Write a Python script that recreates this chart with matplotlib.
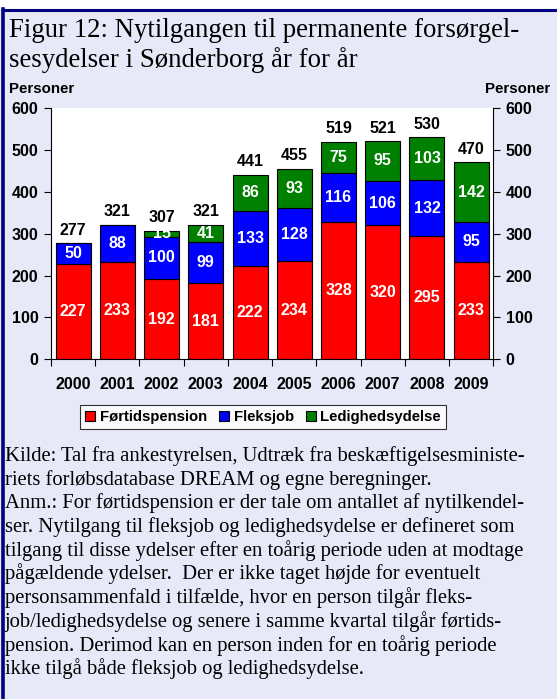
import matplotlib
matplotlib.use("Agg")
import matplotlib.pyplot as plt
from matplotlib.patches import Patch
from matplotlib.lines import Line2D
import numpy as np

years = ["2000", "2001", "2002", "2003", "2004", "2005", "2006", "2007", "2008", "2009"]
fortid = [227, 233, 192, 181, 222, 234, 328, 320, 295, 233]
fleks = [50, 88, 100, 99, 133, 128, 116, 106, 132, 95]
ledig = [0, 0, 15, 41, 86, 93, 75, 95, 103, 142]
series_names = ["Førtidspension", "Fleksjob", "Ledighedsydelse"]
colors = ["#FF0000", "#0000FF", "#008000"]

title_lines = ["Figur 12: Nytilgangen til permanente forsørgel-",
               "sesydelser i Sønderborg år for år"]
note_lines = [
    "Kilde: Tal fra ankestyrelsen, Udtræk fra beskæftigelsesministe-",
    "riets forløbsdatabase DREAM og egne beregninger.",
    "Anm.: For førtidspension er der tale om antallet af nytilkendel-",
    "ser. Nytilgang til fleksjob og ledighedsydelse er defineret som",
    "tilgang til disse ydelser efter en toårig periode uden at modtage",
    "pågældende ydelser.  Der er ikke taget højde for eventuelt",
    "personsammenfald i tilfælde, hvor en person tilgår fleks-",
    "job/ledighedsydelse og senere i samme kvartal tilgår førtids-",
    "pension. Derimod kan en person inden for en toårig periode",
    "ikke tilgå både fleksjob og ledighedsydelse.",
]

W, H = 557, 699
bg = "#E7E9F8"
fig = plt.figure(figsize=(W / 100, H / 100), dpi=100)
fig.patch.set_facecolor(bg)

# white strip above top border, and navy borders
fig.add_artist(plt.Rectangle((0, 1 - 9 / H), 1, 9 / H, transform=fig.transFigure,
                             facecolor="white", edgecolor="none", zorder=0))
fig.add_artist(Line2D([3 / W, 1], [1 - 10 / H, 1 - 10 / H], transform=fig.transFigure,
                      color="#000080", lw=2.2))
fig.add_artist(Line2D([2.5 / W, 2.5 / W], [0, 1 - 9 / H], transform=fig.transFigure,
                      color="#000080", lw=2.6))

ax = fig.add_axes([51 / W, 1 - 359.3 / H, (493.3 - 51) / W, (359.3 - 108) / H])
ax.set_facecolor("white")

FS = 11.5
x = np.arange(len(years))
bw = 0.79
data = [fortid, fleks, ledig]
bottom = np.zeros(len(years))
for vals, col in zip(data, colors):
    vals = np.array(vals, dtype=float)
    ax.bar(x, vals, bw, bottom=bottom, color=col, edgecolor="black", linewidth=0.8, zorder=2)
    for xi, b, v in zip(x, bottom, vals):
        if v > 0:
            ax.text(xi, b + v / 2, f"{int(v)}", ha="center", va="center", color="white",
                    fontsize=FS, fontweight="bold", family="Liberation Sans", zorder=3)
    bottom = bottom + vals

for xi, t in zip(x, bottom):
    ax.annotate(f"{int(t)}", (xi, t), xytext=(0, 4), textcoords="offset points",
                ha="center", va="bottom", fontsize=FS, fontweight="bold",
                family="Liberation Sans", color="black")

ax.set_xlim(-0.5, len(years) - 0.5)
ax.set_ylim(0, 600)
ax.set_yticks(range(0, 601, 100))
ax.set_xticks(x)
ax.set_xticklabels(years)
ax.set_xticks(np.arange(-0.5, len(years)), minor=True)
ax.tick_params(axis="x", which="major", length=0, pad=13)
ax.tick_params(axis="x", which="minor", length=5, width=0.8, direction="out")
ax.tick_params(axis="y", which="major", length=5, width=0.8, direction="out", pad=4,
               left=True, right=True, labelleft=True, labelright=True)
for lab in ax.get_xticklabels() + ax.get_yticklabels():
    lab.set_fontweight("bold")
    lab.set_fontsize(FS)
    lab.set_family("Liberation Sans")
ax.spines["top"].set_visible(False)
for s in ["left", "right", "bottom"]:
    ax.spines[s].set_linewidth(0.8)

# y-axis titles
fig.text(9 / W, 1 - 93 / H, "Personer", ha="left", va="baseline", fontsize=10.8,
         fontweight="bold", family="Liberation Sans")
fig.text(550 / W, 1 - 93 / H, "Personer", ha="right", va="baseline", fontsize=10.8,
         fontweight="bold", family="Liberation Sans")

# title
for i, line in enumerate(title_lines):
    fig.text(9 / W, 1 - (37 + 30 * i) / H, line, ha="left", va="baseline",
             fontsize=19.3, family="Liberation Serif", color="black")

# legend
handles = [Patch(facecolor=c, edgecolor="black", linewidth=0.8) for c in colors]
leg = fig.legend(handles, series_names, loc="center", bbox_to_anchor=(263 / W, 1 - 417 / H),
                 ncol=3, frameon=True, fancybox=False, handlelength=0.7, handleheight=0.7,
                 handletextpad=0.3, columnspacing=0.8, borderpad=0.35,
                 prop={"family": "Liberation Sans", "weight": "bold", "size": 10.7})
leg.get_frame().set_edgecolor("black")
leg.get_frame().set_linewidth(0.8)
leg.get_frame().set_facecolor("white")

# footnote
for i, line in enumerate(note_lines):
    fig.text(5 / W, 1 - (461 + 23.7 * i) / H, line, ha="left", va="baseline",
             fontsize=14.9, family="Liberation Serif", color="black")

fig.savefig("out.png", dpi=100, facecolor=fig.get_facecolor())
